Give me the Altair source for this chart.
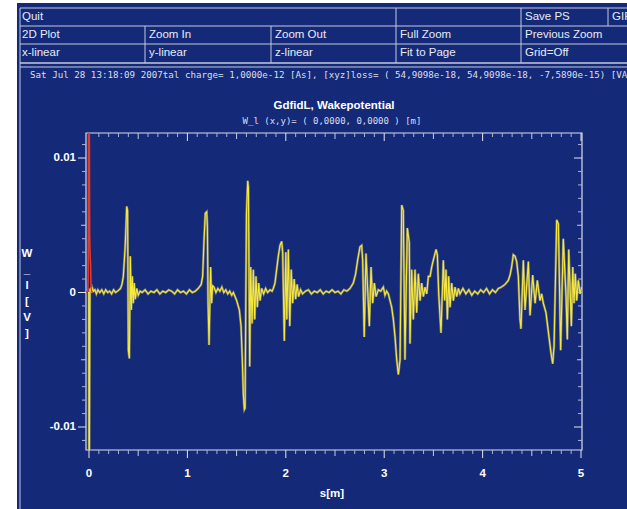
import altair as alt
import pandas as pd

# ---------------------------------------------------------------------------
# GdfidL longitudinal wake potential W_l(s) on axis, s in metres, W in volts
# ---------------------------------------------------------------------------
wake_head = [
    (-0.010, 0.0000), (-0.003, 0.0000), (0.000, -0.0125), (0.004, -0.0125),
    (0.007, -0.0040), (0.010, 0.0003), (0.016, 0.0001), (0.022, 0.0004),
    (0.028, 0.0000), (0.036, 0.0003), (0.045, 0.0001), (0.060, 0.0002),
    (0.075, -0.0001), (0.090, 0.0002), (0.110, 0.0000), (0.130, 0.0002),
    (0.150, -0.0001), (0.170, 0.0002), (0.190, 0.0000), (0.210, 0.0001),
    (0.230, -0.0001), (0.250, 0.0002), (0.270, 0.0000), (0.290, 0.0001),
    (0.305, 0.0002),
]
wake_pulse1 = [
    (0.320, 0.0003), (0.335, 0.0006), (0.349, 0.0012), (0.366, 0.0032),
    (0.376, 0.0049), (0.383, 0.0064), (0.392, 0.0061), (0.400, -0.0043),
    (0.410, -0.0049), (0.420, 0.0027), (0.430, -0.0013), (0.440, 0.0012),
    (0.450, -0.0008), (0.460, 0.0007), (0.470, -0.0005), (0.485, 0.0003),
    (0.500, -0.0002), (0.520, 0.0001), (0.540, 0.0000), (0.570, 0.0002),
    (0.600, -0.0001), (0.630, 0.0001), (0.660, 0.0000), (0.690, 0.0002),
    (0.720, -0.0001), (0.750, 0.0001), (0.780, 0.0000), (0.810, 0.0002),
    (0.840, 0.0001), (0.870, -0.0001), (0.900, 0.0002), (0.930, 0.0000),
    (0.960, 0.0001), (0.990, -0.0001), (1.020, 0.0002), (1.050, 0.0000),
    (1.080, 0.0001), (1.110, 0.0003),
]
wake_pulse2 = [
    (1.140, 0.0006), (1.155, 0.0012), (1.169, 0.0039), (1.182, 0.0059),
    (1.196, 0.0060), (1.203, 0.0049), (1.210, -0.0008), (1.220, -0.0039),
    (1.236, 0.0019), (1.246, -0.0008), (1.256, 0.0005), (1.270, 0.0004),
    (1.290, 0.0000), (1.310, 0.0003), (1.330, 0.0001), (1.350, 0.0004),
    (1.370, 0.0000), (1.390, 0.0002), (1.410, -0.0001), (1.430, 0.0001),
    (1.450, -0.0002), (1.467, 0.0000), (1.501, -0.0006), (1.528, -0.0013),
    (1.545, -0.0025), (1.558, -0.0050), (1.568, -0.0075), (1.579, -0.0087),
    (1.586, -0.0086), (1.600, 0.0058), (1.613, 0.0083), (1.620, 0.0078),
    (1.633, -0.0055), (1.643, 0.0019), (1.657, -0.0023), (1.670, 0.0017),
    (1.684, -0.0020), (1.697, 0.0012), (1.711, -0.0011), (1.725, 0.0007),
    (1.738, -0.0006), (1.755, 0.0003), (1.775, -0.0001), (1.795, 0.0003),
    (1.815, 0.0000), (1.840, 0.0002), (1.860, 0.0001), (1.873, 0.0003),
]
wake_pulse3 = [
    (1.890, 0.0007), (1.907, 0.0017), (1.924, 0.0027), (1.941, 0.0035),
    (1.958, 0.0038), (1.968, 0.0030), (1.985, -0.0036), (2.000, 0.0030),
    (2.010, -0.0020), (2.026, 0.0032), (2.040, -0.0025), (2.055, 0.0017),
    (2.070, -0.0008), (2.085, 0.0010), (2.100, -0.0005), (2.115, 0.0006),
    (2.130, -0.0003), (2.150, 0.0002), (2.170, -0.0001), (2.200, 0.0001),
    (2.230, 0.0002), (2.260, -0.0001), (2.290, 0.0001), (2.320, 0.0000),
    (2.350, 0.0002), (2.380, -0.0001), (2.410, 0.0001), (2.440, 0.0000),
    (2.470, 0.0002), (2.500, 0.0000), (2.530, 0.0001), (2.560, -0.0001),
    (2.590, 0.0002), (2.620, 0.0001), (2.652, 0.0003),
]
wake_pulse4 = [
    (2.686, 0.0007), (2.710, 0.0014), (2.730, 0.0024), (2.754, 0.0034),
    (2.771, 0.0035), (2.781, 0.0024), (2.797, -0.0033), (2.815, 0.0029),
    (2.849, -0.0025), (2.866, 0.0019), (2.883, -0.0008), (2.900, 0.0007),
    (2.917, -0.0003), (2.940, 0.0002), (2.964, 0.0001), (2.991, 0.0004),
    (3.008, -0.0002), (3.025, 0.0001), (3.042, -0.0001), (3.059, -0.0006),
    (3.076, -0.0011), (3.093, -0.0020), (3.110, -0.0033), (3.127, -0.0050),
    (3.144, -0.0061), (3.161, -0.0050), (3.178, 0.0065), (3.194, 0.0061),
    (3.211, -0.0050), (3.235, 0.0048), (3.255, 0.0037), (3.262, -0.0038),
    (3.279, 0.0017), (3.296, -0.0020), (3.313, 0.0017), (3.330, -0.0015),
    (3.347, 0.0014), (3.364, -0.0006), (3.381, 0.0007), (3.398, -0.0003),
    (3.415, 0.0004), (3.432, -0.0001), (3.449, 0.0012), (3.466, 0.0012),
    (3.483, 0.0019), (3.499, 0.0024), (3.527, 0.0032), (3.540, 0.0028),
    (3.554, -0.0001), (3.577, -0.0030), (3.601, 0.0024), (3.615, -0.0006),
    (3.628, 0.0017), (3.642, -0.0020), (3.655, 0.0012), (3.669, -0.0011),
    (3.686, 0.0007), (3.703, -0.0006), (3.720, 0.0004), (3.737, -0.0003),
    (3.754, 0.0003), (3.770, -0.0001),
]
wake_pulse5 = [
    (3.800, 0.0003), (3.830, -0.0001), (3.860, 0.0002), (3.890, -0.0002),
    (3.920, 0.0001), (3.950, -0.0001), (3.980, 0.0002), (4.010, 0.0000),
    (4.040, 0.0003), (4.070, -0.0001), (4.100, 0.0002), (4.130, 0.0000),
    (4.160, 0.0003), (4.190, 0.0004), (4.228, 0.0006), (4.261, 0.0009),
    (4.279, 0.0013), (4.295, 0.0019), (4.312, 0.0028), (4.329, 0.0027),
    (4.346, 0.0023), (4.363, 0.0012), (4.380, -0.0020), (4.390, -0.0027),
    (4.414, 0.0024), (4.431, -0.0013), (4.465, 0.0023), (4.482, -0.0017),
    (4.509, 0.0013), (4.533, -0.0008), (4.556, 0.0009), (4.583, -0.0006),
    (4.600, -0.0001), (4.617, -0.0008), (4.644, -0.0015), (4.661, -0.0025),
    (4.678, -0.0035), (4.695, -0.0045), (4.712, -0.0053), (4.726, -0.0040),
    (4.753, 0.0054), (4.770, 0.0051), (4.793, -0.0043), (4.820, 0.0040),
    (4.848, -0.0003), (4.861, -0.0035), (4.875, 0.0032), (4.902, -0.0025),
    (4.916, 0.0019), (4.929, -0.0008), (4.942, 0.0014), (4.956, -0.0006),
    (4.973, 0.0009), (4.990, -0.0001), (5.007, 0.0004),
]

# exciting bunch profile near s = 0 (drawn on the same axis)
bunch_pts = [
    (-0.030, 0.0000), (-0.012, 0.0001), (-0.009, 0.0010), (-0.007, 0.0050),
    (-0.005, 0.0130), (0.003, 0.0130), (0.006, 0.0045), (0.010, 0.0030),
    (0.016, 0.0020), (0.020, 0.0006), (0.026, 0.0001), (0.035, 0.0000),
]

x_tick_labels = ["0", "1", "2", "3", "4", "5"]
y_tick_values = [0.01, 0.0, -0.01]
y_tick_labels = ["0.01", "0", "-0.01"]

menu_row1 = [("Quit", -64), ("Save PS", 439), ("GIF", 526)]
menu_row2 = [("2D Plot", -64), ("Zoom In", 63), ("Zoom Out", 189),
             ("Full Zoom", 314), ("Previous Zoom", 439)]
menu_row3 = [("x-linear", -64), ("y-linear", 63), ("z-linear", 189),
             ("Fit to Page", 314), ("Grid=Off", 439)]

info_text = ("Sat Jul 28 13:18:09 2007tal charge= 1,0000e-12 [As], "
             "[xyz]loss= ( 54,9098e-18, 54,9098e-18, -7,5890e-15) [VAs]")
title_text = "GdfidL, Wakepotential"
subtitle_text = "W_l (x,y)= ( 0,0000, 0,0000 ) [m]"
x_title = "s[m]"
y_title_letters = ["W", "_", "l", "[", "V", "]"]

# ---------------------------------------------------------------------------
BLUE = "#142a79"
LINE = "#c4c8de"
TXT = "#e8eaf4"
W, H = 496, 317

xs = alt.Scale(domain=[-0.0305, 5.010], nice=False, zero=False)
ys = alt.Scale(domain=[-0.01171, 0.01186], nice=False, zero=False)

one = pd.DataFrame({"k": [0]})


def to_frame(pts):
    return pd.DataFrame({"i": list(range(len(pts))),
                         "s": [p[0] for p in pts],
                         "w": [p[1] for p in pts]})


wake = to_frame(wake_head + wake_pulse1 + wake_pulse2 + wake_pulse3
                + wake_pulse4 + wake_pulse5)
bunch = to_frame(bunch_pts)


def hline(x1, x2, y, w=1.0, color=LINE):
    return alt.Chart(one).mark_rule(color=color, strokeWidth=w).encode(
        x=alt.value(x1), x2=alt.value(x2), y=alt.value(y))


def vline(x, y1, y2, w=1.0, color=LINE):
    return alt.Chart(one).mark_rule(color=color, strokeWidth=w).encode(
        x=alt.value(x), y=alt.value(y1), y2=alt.value(y2))


def label(text, x, y, size=11.5, font="Liberation Sans", weight="normal",
          align="left", color=TXT):
    return alt.Chart(one).mark_text(
        text=text, font=font, fontSize=size, fontWeight=weight,
        align=align, baseline="middle", color=color,
    ).encode(x=alt.value(x), y=alt.value(y))


layers = []

# panel background
layers.append(alt.Chart(one).mark_rect(color=BLUE).encode(
    x=alt.value(-69), x2=alt.value(541), y=alt.value(-130), y2=alt.value(376)))

# button grid
for yy in (-125, -107, -89):
    layers.append(hline(-66, 541, yy))
layers.append(hline(-66, 541, -70, 1.6))
layers.append(hline(-66, 541, -66))
layers.append(vline(-66, -125, 376))
for xx in (310, 435, 522):
    layers.append(vline(xx, -125, -107))
for xx in (59, 185, 310, 435):
    layers.append(vline(xx, -107, -70))

for t, xx in menu_row1:
    layers.append(label(t, xx, -116))
for t, xx in menu_row2:
    layers.append(label(t, xx, -98))
for t, xx in menu_row3:
    layers.append(label(t, xx, -80))

layers.append(label(info_text, -56, -58, size=9.2, font="DejaVu Sans Mono",
                    color="#dcdfee"))

# titles
layers.append(label(title_text, 248, -27, size=11.5, weight="bold",
                    align="center", color="white"))
layers.append(label(subtitle_text, 246, -12, size=9, font="DejaVu Sans Mono",
                    align="center", color="#dcdfee"))
layers.append(label(x_title, 246, 361, size=11.5, weight="bold",
                    align="center", color="white"))
for k, ch in enumerate(y_title_letters):
    layers.append(label(ch, -59, 121 + 16 * k, size=11.5, weight="bold",
                        align="center", color="white"))

# plot frame
layers.append(alt.Chart(one).mark_rect(fill=None, stroke="#dadcea",
                                       strokeWidth=1.2).encode(
    x=alt.value(0), x2=alt.value(W), y=alt.value(0), y2=alt.value(H)))

# ticks along s
s_minor = pd.DataFrame({"v": [i / 10 for i in range(51) if i % 5 != 0]})
s_half = pd.DataFrame({"v": [i / 2 for i in range(11) if i % 2 == 1]})
s_major = pd.DataFrame({"v": [float(i) for i in range(6)]})
for df, ln, col in ((s_minor, 4, "#aeb3d4"), (s_half, 6, "#c8cce2"),
                    (s_major, 8, "#e4e6f0")):
    layers.append(alt.Chart(df).mark_rule(color=col, strokeWidth=1).encode(
        x=alt.X("v:Q", scale=xs, axis=None), y=alt.value(H), y2=alt.value(H + ln)))
    layers.append(alt.Chart(df).mark_rule(color=col, strokeWidth=1).encode(
        x=alt.X("v:Q", scale=xs, axis=None), y=alt.value(0), y2=alt.value(ln)))

# ticks along W
w_minor = pd.DataFrame({"v": [i / 1000 for i in range(-11, 12) if i % 5 != 0]})
w_half = pd.DataFrame({"v": [-0.005, 0.005]})
w_major = pd.DataFrame({"v": [-0.01, 0.0, 0.01]})
for df, ln, col in ((w_minor, 4, "#aeb3d4"), (w_half, 5, "#c8cce2"),
                    (w_major, 8, "#e4e6f0")):
    layers.append(alt.Chart(df).mark_rule(color=col, strokeWidth=1).encode(
        y=alt.Y("v:Q", scale=ys, axis=None), x=alt.value(0), x2=alt.value(-ln)))
    layers.append(alt.Chart(df).mark_rule(color=col, strokeWidth=1).encode(
        y=alt.Y("v:Q", scale=ys, axis=None), x=alt.value(W), x2=alt.value(W - ln)))

# tick labels
xl = pd.DataFrame({"v": [float(t) for t in x_tick_labels], "t": x_tick_labels})
layers.append(alt.Chart(xl).mark_text(
    font="Liberation Sans", fontSize=11.5, fontWeight="bold", color="white",
    align="center", baseline="middle").encode(
    x=alt.X("v:Q", scale=xs, axis=None), y=alt.value(341), text="t:N"))
yl = pd.DataFrame({"v": y_tick_values, "t": y_tick_labels})
layers.append(alt.Chart(yl).mark_text(
    font="Liberation Sans", fontSize=11.5, fontWeight="bold", color="white",
    align="right", baseline="middle").encode(
    y=alt.Y("v:Q", scale=ys, axis=None), x=alt.value(-10), text="t:N"))

# wake potential: soft grey halo under the bright yellow trace
layers.append(alt.Chart(wake).mark_line(
    clip=True, color="#8c8a70", strokeWidth=2.4, opacity=0.85).encode(
    x=alt.X("s:Q", scale=xs, axis=None), y=alt.Y("w:Q", scale=ys, axis=None),
    order="i:Q"))
layers.append(alt.Chart(wake).mark_line(
    clip=True, color="#f7e93c", strokeWidth=1.1).encode(
    x=alt.X("s:Q", scale=xs, axis=None), y=alt.Y("w:Q", scale=ys, axis=None),
    order="i:Q"))

# bunch profile
layers.append(alt.Chart(bunch).mark_line(
    clip=True, color="#e23a2e", strokeWidth=1.6).encode(
    x=alt.X("s:Q", scale=xs, axis=None), y=alt.Y("w:Q", scale=ys, axis=None),
    order="i:Q"))

chart = alt.layer(*layers).properties(
    width=W, height=H,
    padding={"left": 86, "top": 133, "right": 45, "bottom": 59},
    autosize=alt.AutoSizeParams(type="none"),
    background="white",
).configure_view(stroke=None)

chart.save("out.html", embed_options={"renderer": "svg", "actions": False})
